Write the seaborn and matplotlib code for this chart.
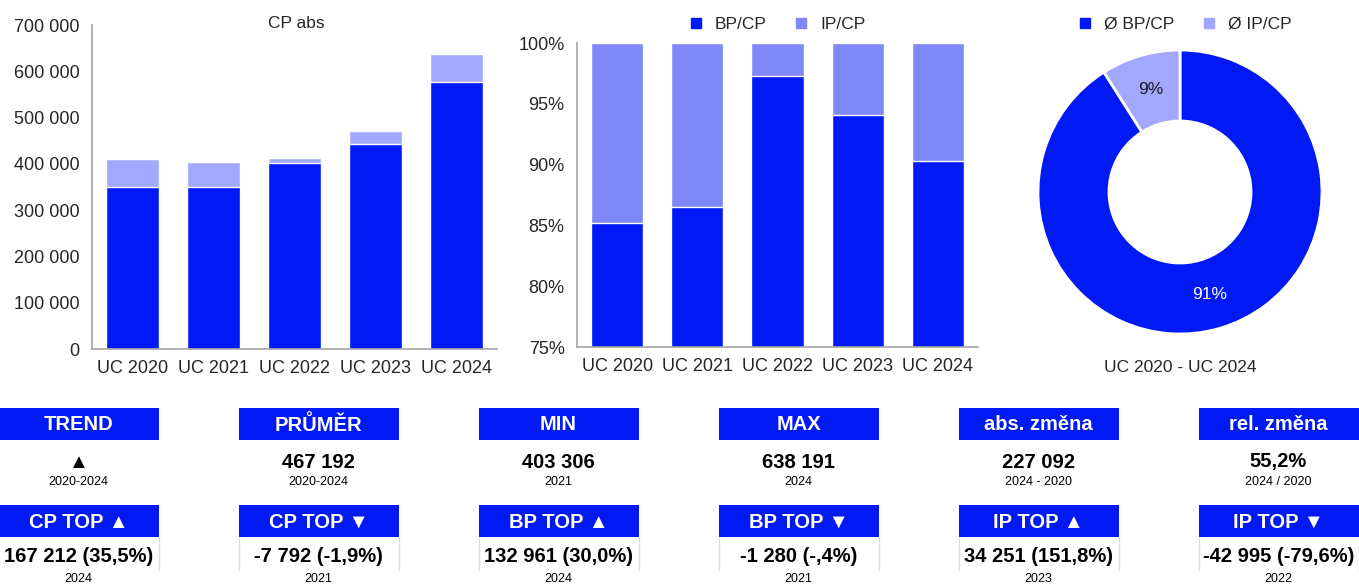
# Dashboard CP / BP / IP  (UC 2020 - UC 2024)

import seaborn as sns
import matplotlib.pyplot as plt
import pandas as pd
from matplotlib.lines import Line2D
from matplotlib.patches import Rectangle
from matplotlib.ticker import FuncFormatter

# data
roky = ["UC 2020", "UC 2021", "UC 2022", "UC 2023", "UC 2024"]
bp = [350300, 349000, 401300, 443200, 576200]
ip = [60800, 54300, 11100, 27800, 62000]
pie_labels = ["Ø BP/CP", "Ø IP/CP"]
pie_vals = [91, 9]

headers_1 = ["TREND", "PRŮMĚR", "MIN", "MAX", "abs. změna", "rel. změna"]
values_1 = ["▲", "467 192", "403 306", "638 191", "227 092", "55,2%"]
subs_1 = ["2020-2024", "2020-2024", "2021", "2024", "2024 - 2020", "2024 / 2020"]
headers_2 = ["CP TOP ▲", "CP TOP ▼", "BP TOP ▲", "BP TOP ▼", "IP TOP ▲", "IP TOP ▼"]
values_2 = ["167 212 (35,5%)", "-7 792 (-1,9%)", "132 961 (30,0%)", "-1 280 (-,4%)",
            "34 251 (151,8%)", "-42 995 (-79,6%)"]
subs_2 = ["2024", "2021", "2024", "2021", "2023", "2022"]

df = pd.DataFrame({"rok": roky, "BP": bp, "IP": ip})
df["CP"] = df["BP"] + df["IP"]
df["BP_pct"] = df["BP"] / df["CP"] * 100
df["CP_pct"] = 100.0

DARK = "#0019F5"
LIGHT = "#A3A8FF"
MID = "#8088F8"
GRID = "#A6A6A6"

sns.set_style("white")
plt.rcParams["font.family"] = ["Liberation Sans", "DejaVu Sans"]

W, H = 1359, 585
fig = plt.figure(figsize=(W / 100, H / 100), dpi=100)


def box(x0, y0, x1, y1):
    return [x0 / W, 1 - y1 / H, (x1 - x0) / W, (y1 - y0) / H]


def style_axes(ax):
    sns.despine(ax=ax)
    for s in ["left", "bottom"]:
        ax.spines[s].set_color(GRID)
        ax.spines[s].set_linewidth(1.2)
    ax.set_xlim(-0.5, 4.5)
    ax.set_xticks([i - 0.5 for i in range(6)])
    ax.set_xticklabels([])
    ax.set_xticks(range(5), minor=True)
    ax.set_xticklabels(roky, minor=True, fontsize=13)
    ax.tick_params(axis="x", which="major", length=6, color=GRID, width=1.2)
    ax.tick_params(axis="x", which="minor", length=0, pad=8)
    ax.tick_params(axis="y", length=5, color=GRID, width=1.2, labelsize=13, pad=4)
    ax.set_xlabel("")
    ax.set_ylabel("")


# graf 1 - CP abs
ax1 = fig.add_axes(box(92, 25, 497, 349))
sns.barplot(data=df, x="rok", y="CP", color=LIGHT, saturation=1, width=0.65,
            edgecolor="white", linewidth=1, ax=ax1)
sns.barplot(data=df, x="rok", y="BP", color=DARK, saturation=1, width=0.65,
            edgecolor="white", linewidth=1, ax=ax1)
ax1.set_ylim(0, 700000)
ax1.set_yticks(range(0, 700001, 100000))
ax1.yaxis.set_major_formatter(FuncFormatter(lambda v, p: f"{int(v):,}".replace(",", " ")))
style_axes(ax1)
fig.text(296 / W, 1 - 24 / H, "CP abs", ha="center", va="center", fontsize=12.5)

# graf 2 - podil BP/CP
ax2 = fig.add_axes(box(577, 43, 978, 347))
sns.barplot(data=df, x="rok", y="CP_pct", color=MID, saturation=1, width=0.65,
            edgecolor="white", linewidth=1, ax=ax2)
sns.barplot(data=df, x="rok", y="BP_pct", color=DARK, saturation=1, width=0.65,
            edgecolor="white", linewidth=1, ax=ax2)
ax2.set_ylim(75, 100)
ax2.set_yticks(range(75, 101, 5))
ax2.yaxis.set_major_formatter(FuncFormatter(lambda v, p: f"{int(v)}%"))
style_axes(ax2)
h2 = [Line2D([], [], marker="s", ls="", color=DARK, markersize=7),
      Line2D([], [], marker="s", ls="", color=MID, markersize=7)]
fig.legend(h2, ["BP/CP", "IP/CP"], loc="center", bbox_to_anchor=(772 / W, 1 - 24 / H),
           ncol=2, frameon=False, fontsize=12.5, handletextpad=0.1, columnspacing=1.0)

# graf 3 - prumer
ax3 = fig.add_axes(box(1038, 50, 1322, 334))
wedges, _, autotexts = ax3.pie(pie_vals, colors=[DARK, LIGHT], startangle=90, counterclock=False,
                               radius=1, autopct="%.0f%%", pctdistance=0.75,
                               wedgeprops=dict(width=0.5, edgecolor="white", linewidth=2))
autotexts[0].set_color("white")
autotexts[1].set_color("#1A1A1A")
for t in autotexts:
    t.set_fontsize(12.5)
ax3.set_xlim(-1, 1)
ax3.set_ylim(-1, 1)
ax3.set_aspect("equal")
h3 = [Line2D([], [], marker="s", ls="", color=DARK, markersize=7),
      Line2D([], [], marker="s", ls="", color=LIGHT, markersize=7)]
fig.legend(h3, pie_labels, loc="center", bbox_to_anchor=(1180 / W, 1 - 24 / H),
           ncol=2, frameon=False, fontsize=12.5, handletextpad=0.1, columnspacing=1.0)
fig.text(1180 / W, 1 - 368 / H, "UC 2020 - UC 2024", ha="center", va="center", fontsize=12.5)

# ukazatele
ov = fig.add_axes([0, 0, 1, 1])
ov.set_xlim(0, W)
ov.set_ylim(H, 0)
ov.axis("off")
narrow = ["Liberation Sans Narrow", "Liberation Sans", "DejaVu Sans"]
for i in range(6):
    cx = 78.5 + 240 * i
    x0 = cx - 80
    ov.add_patch(Rectangle((x0, 408), 160, 32, color=DARK, lw=0))
    ov.add_patch(Rectangle((x0, 505), 160, 32, color=DARK, lw=0))
    ov.plot([x0, x0], [537, 570], color="#DDDDDD", lw=1)
    ov.plot([x0 + 160, x0 + 160], [537, 570], color="#DDDDDD", lw=1)
    ov.text(cx, 425, headers_1[i], ha="center", va="center", color="white",
            fontsize=14.5, fontweight="bold", family=narrow)
    ov.text(cx, 522, headers_2[i], ha="center", va="center", color="white",
            fontsize=14.5, fontweight="bold", family=narrow)
    ov.text(cx, 462, values_1[i], ha="center", va="center", color="black",
            fontsize=14.5, fontweight="bold", family=narrow)
    ov.text(cx, 482, subs_1[i], ha="center", va="center", color="black",
            fontsize=9, family=narrow)
    ov.text(cx, 556, values_2[i], ha="center", va="center", color="black",
            fontsize=14.5, fontweight="bold", family=narrow)
    ov.text(cx, 579, subs_2[i], ha="center", va="center", color="black",
            fontsize=9, family=narrow)

fig.savefig("out.png", dpi=100)
